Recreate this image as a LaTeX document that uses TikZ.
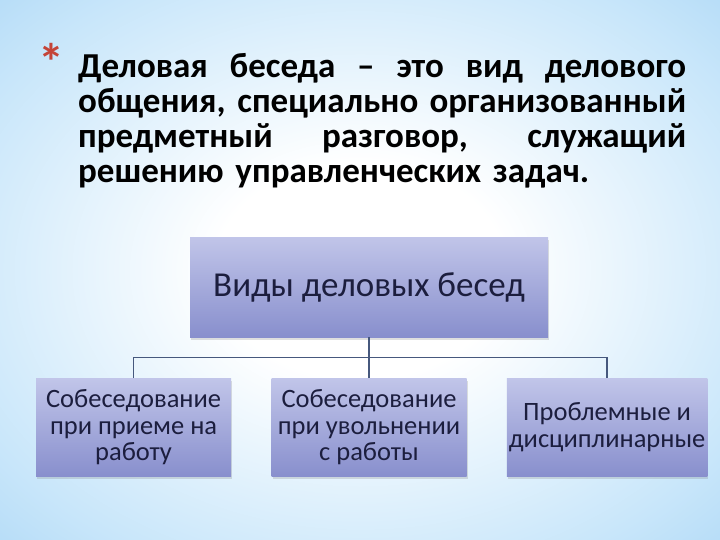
\documentclass[tikz,border=0pt]{standalone}
\usepackage{fontspec}
\setmainfont{Carlito}
\usetikzlibrary{positioning,shadows}

\definecolor{bgblue}{RGB}{140,198,242}
\definecolor{bglight}{RGB}{200,230,250}
\definecolor{boxtop}{RGB}{193,197,233}
\definecolor{boxbot}{RGB}{136,143,205}
\definecolor{ink}{RGB}{28,30,62}
\definecolor{linkc}{RGB}{70,88,125}
\definecolor{star}{RGB}{196,68,56}

\pgfdeclareradialshading{skyglow}{\pgfpoint{0bp}{0bp}}{color(0bp)=(white); color(10bp)=(white); color(30bp)=(bglight); color(50bp)=(bgblue); color(72bp)=(bgblue)}

% one justified heading line
\newcommand{\fullline}[1]{\leavevmode\hbox to 608pt{\spaceskip=.25em plus 1fil\relax #1}}

\begin{document}
\begin{tikzpicture}[
	x = 1pt, y = -1pt, % slide grid, y runs down
	box/.style={rectangle, top color=boxtop, bottom color=boxbot, text=ink, align=center, inner sep=2pt, drop shadow={shadow xshift=1pt, shadow yshift=-3pt, opacity=0.25}},
	Main/.style={box, minimum width=358pt, minimum height=100pt, font=\fontsize{35}{40}\selectfont},
	Sub/.style={box, minimum width=195pt, minimum height=98pt, font=\fontsize{26.5}{26.5}\selectfont},
	Head/.style={inner sep=0pt, text width=608pt, align=left, font=\fontsize{35}{35}\selectfont\bfseries},
	Star/.style={inner sep=0pt, text=star, font=\fontsize{52}{52}\selectfont\bfseries},
	link/.style={draw=linkc, line width=1.4pt},
	]

	% sky background
	\shade[shading=skyglow] (0,0) rectangle (720,540);

	% heading
	\node[Star] (A) at (51,62) {*};
	\node[Head, anchor=north west] (H) at (78,53) {%
		\fullline{Деловая беседа – это вид делового}\\
		\fullline{общения, специально организованный}\\
		\fullline{предметный разговор, служащий}\\
		решению управленческих задач.};

	% Nodes and their relative positions
	\node[Main] (V) at (369,287) {Виды деловых бесед};
	\node[Sub] (S2) [below = 41pt of V] {Собеседование\\при увольнении\\с работы};
	\node[Sub] (S1) [left  = 40pt of S2] {Собеседование\\при приеме на\\работу};
	\node[Sub] (S3) [right = 40pt of S2] {Проблемные и\\дисциплинарные};

	% Paths connecting nodes
	\draw[link] (V) -- (S2);
	\draw[link] (S1.north) -- ++(0,-21) -| (S3.north);

\end{tikzpicture}
\end{document}
